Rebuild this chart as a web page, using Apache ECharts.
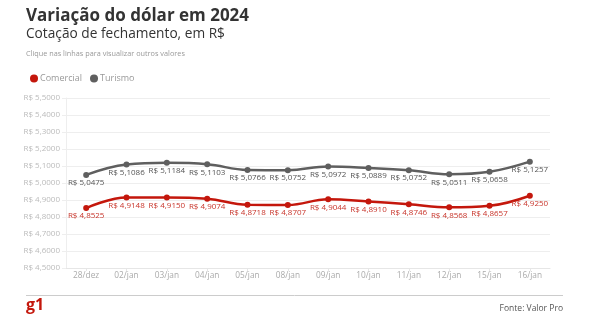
<!DOCTYPE html>
<html><head><meta charset="utf-8">
<script src="https://cdn.jsdelivr.net/npm/echarts@6/dist/echarts.min.js"></script>
<style>html,body{margin:0;padding:0;background:#fff}#c{width:590px;height:330px}</style>
</head><body><div id="c"></div>
<script>
var categories = ['28/dez','02/jan','03/jan','04/jan','05/jan','08/jan','09/jan','10/jan','11/jan','12/jan','15/jan','16/jan'];
var comercial = [4.8525,4.9148,4.9150,4.9074,4.8718,4.8707,4.9044,4.8910,4.8746,4.8568,4.8657,4.9250];
var turismo = [5.0475,5.1086,5.1184,5.1103,5.0766,5.0752,5.0972,5.0889,5.0752,5.0511,5.0658,5.1257];
var yMin = 4.5, yMax = 5.5, yStep = 0.1;

function fmt(v){ return 'R$ ' + Number(v).toFixed(4).replace('.', ','); }
var FONT = '"Open Sans", sans-serif';
var RED = '#c4170c', GREY = '#5f5f5f';

var chart = echarts.init(document.getElementById('c'), null, {renderer:'canvas'});
chart.setOption({
  animation:false,
  textStyle:{fontFamily:FONT},
  legend:{
    left:25, top:69, itemWidth:8, itemHeight:8, itemGap:8,
    icon:'circle',
    textStyle:{fontFamily:FONT, fontSize:9, color:'#999', padding:[0,0,0,-3]},
    data:['Comercial','Turismo']
  },
  graphic:[
    {type:'text', left:26, top:8, style:{text:'Variação do dólar em 2024', font:'bold 17px ' + FONT, fill:'#333'}},
    {type:'text', left:26, top:27, style:{text:'Cotação de fechamento, em R$', font:'13.7px ' + FONT, fill:'#333'}},
    {type:'text', left:26, top:50, style:{text:'Clique nas linhas para visualizar outros valores', font:'7.3px ' + FONT, fill:'#999'}},
    {type:'line', shape:{x1:26, y1:295.5, x2:563, y2:295.5}, style:{stroke:'#cccccc', lineWidth:1}},
    {type:'text', right:27, top:304, style:{text:'Fonte: Valor Pro', font:'8.5px ' + FONT, fill:'#555'}},
    {type:'text', left:26, top:297, style:{text:'g1', font:'bold 16px ' + FONT, fill:RED}}
  ],
  grid:{left:66, right:40, top:98, bottom:62},
  xAxis:{
    type:'category', data:categories, boundaryGap:true,
    axisLine:{lineStyle:{color:'#e6e6e6'}},
    axisTick:{show:true, alignWithLabel:true, length:3, lineStyle:{color:'#e6e6e6'}},
    axisLabel:{fontFamily:FONT, fontSize:8.3, color:'#aaa', margin:4}
  },
  yAxis:{
    type:'value', min:yMin, max:yMax, interval:yStep,
    axisLine:{show:true, lineStyle:{color:'#eeeeee'}},
    axisTick:{show:true, length:4, lineStyle:{color:'#eeeeee'}},
    splitLine:{lineStyle:{color:'#eeeeee'}},
    axisLabel:{fontFamily:FONT, fontSize:8, color:'#bbb', margin:6, formatter:function(v){return fmt(v);}}
  },
  series:[
    {name:'Comercial', type:'line', data:comercial, smooth:0.4, symbol:'circle', symbolSize:6,
     itemStyle:{color:RED}, lineStyle:{color:RED, width:2.5},
     label:{show:true, position:'bottom', distance:1, fontFamily:FONT, fontSize:8, color:'#c8352b', formatter:function(p){return fmt(p.value);}}},
    {name:'Turismo', type:'line', data:turismo, smooth:0.4, symbol:'circle', symbolSize:6,
     itemStyle:{color:GREY}, lineStyle:{color:GREY, width:2.5},
     label:{show:true, position:'bottom', distance:1, fontFamily:FONT, fontSize:8, color:'#555', formatter:function(p){return fmt(p.value);}}}
  ]
});
</script></body></html>
